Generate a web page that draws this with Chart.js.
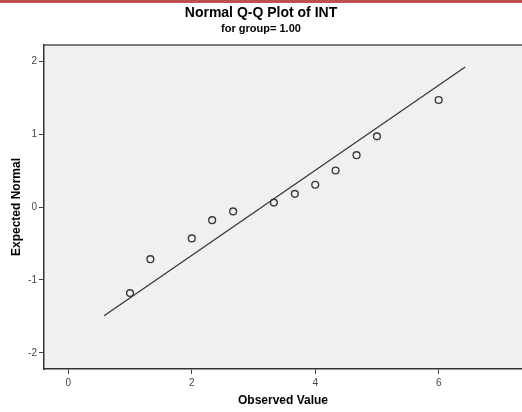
<!DOCTYPE html>
<html lang="en">
<head>
    <meta charset="UTF-8">
    <title>Normal Q-Q Plot of INT</title>
    <style>
        body {
            margin: 0;
            background-color: white;
        }
        #qqChart {
            display: block;
        }
    </style>
</head>
<body>
    <canvas id="qqChart" width="522" height="412"></canvas>
    <script src="https://cdn.jsdelivr.net/npm/chart.js"></script>
    <script>
        // Data
        const observed = [1.00, 1.33, 2.00, 2.33, 2.67, 3.33, 3.67, 4.00, 4.33, 4.67, 5.00, 6.00];
        const expectedNormal = [-1.18, -0.715, -0.43, -0.18, -0.06, 0.06, 0.18, 0.305, 0.50, 0.71, 0.968, 1.466];
        // reference line end points
        const lineX = [0.58, 6.43];
        const lineY = [-1.49, 1.92];
        const xTicks = [0, 2, 4, 6];
        const yTicks = [-2, -1, 0, 1, 2];

        const fontFamily = '"Liberation Sans", Arial, sans-serif';

        // background, plot panel, top frame line and the red band on top
        const panelPlugin = {
            id: 'panel',
            beforeDraw(chart) {
                const ctx = chart.ctx;
                const a = chart.chartArea;
                ctx.save();
                ctx.fillStyle = '#ffffff';
                ctx.fillRect(0, 0, chart.width, chart.height);
                ctx.fillStyle = '#c0504d';
                ctx.fillRect(0, 0, chart.width, 3);
                ctx.fillStyle = '#f0f0f0';
                ctx.fillRect(a.left, a.top, a.right - a.left, a.bottom - a.top);
                ctx.strokeStyle = '#555555';
                ctx.lineWidth = 1.5;
                ctx.beginPath();
                ctx.moveTo(a.left, a.top);
                ctx.lineTo(a.right, a.top);
                ctx.stroke();
                ctx.restore();
            }
        };

        const ctx = document.getElementById('qqChart').getContext('2d');
        const qqChart = new Chart(ctx, {
            type: 'scatter',
            data: {
                datasets: [
                    {
                        label: 'Observed',
                        data: observed.map((x, i) => ({ x: x, y: expectedNormal[i] })),
                        pointRadius: 3.4,
                        pointBorderWidth: 1.4,
                        pointBorderColor: '#3a3a3a',
                        pointBackgroundColor: 'rgba(0,0,0,0)',
                        order: 1
                    },
                    {
                        type: 'line',
                        label: 'Reference',
                        data: lineX.map((x, i) => ({ x: x, y: lineY[i] })),
                        borderColor: '#333333',
                        borderWidth: 1.2,
                        pointRadius: 0,
                        fill: false,
                        order: 2
                    }
                ]
            },
            options: {
                responsive: false,
                animation: false,
                layout: { padding: 0, autoPadding: false },
                plugins: {
                    legend: { display: false },
                    tooltip: { enabled: false },
                    title: {
                        display: true,
                        text: 'Normal Q-Q Plot of INT',
                        color: '#000000',
                        font: { family: fontFamily, size: 14, weight: 'bold' },
                        padding: { top: 5, bottom: 0 }
                    },
                    subtitle: {
                        display: true,
                        text: 'for group= 1.00',
                        color: '#000000',
                        font: { family: fontFamily, size: 11, weight: 'bold' },
                        padding: { top: 1, bottom: 9 }
                    }
                },
                scales: {
                    x: {
                        type: 'linear',
                        min: -0.394,
                        max: 7.35,
                        afterFit: (scale) => { scale.height = 43; },
                        afterBuildTicks: (scale) => { scale.ticks = xTicks.map(v => ({ value: v })); },
                        grid: {
                            drawOnChartArea: false,
                            color: '#444444',
                            tickLength: 5
                        },
                        border: { color: '#333333', width: 1.5 },
                        ticks: {
                            color: '#444444',
                            padding: 3,
                            font: { family: fontFamily, size: 10 }
                        },
                        title: {
                            display: true,
                            text: 'Observed Value',
                            color: '#000000',
                            font: { family: fontFamily, size: 12, weight: 'bold' },
                            padding: { top: 0, bottom: 4 }
                        }
                    },
                    y: {
                        type: 'linear',
                        min: -2.22,
                        max: 2.22,
                        afterFit: (scale) => { scale.width = 44; },
                        afterBuildTicks: (scale) => { scale.ticks = yTicks.map(v => ({ value: v })); },
                        grid: {
                            drawOnChartArea: false,
                            color: '#444444',
                            tickLength: 5
                        },
                        border: { color: '#333333', width: 1.5 },
                        ticks: {
                            color: '#444444',
                            padding: 2,
                            font: { family: fontFamily, size: 10 }
                        },
                        title: {
                            display: true,
                            text: 'Expected Normal',
                            color: '#000000',
                            font: { family: fontFamily, size: 12, weight: 'bold' },
                            padding: { top: 9, bottom: 0 }
                        }
                    }
                }
            },
            plugins: [panelPlugin]
        });
    </script>
</body>
</html>
